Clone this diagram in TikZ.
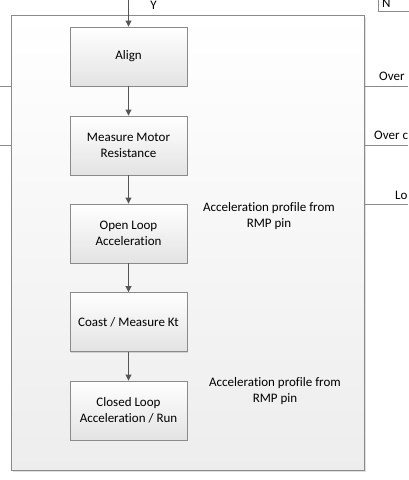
\documentclass[tikz,border=0pt]{standalone}
\usepackage{fontspec}
\setmainfont{Carlito}[Ligatures={NoCommon}]
\usetikzlibrary{arrows.meta,shadows}
\definecolor{edge}{HTML}{8A8A8A}
\definecolor{arr}{HTML}{555555}
\tikzset{
  stepbox/.style={draw=edge, line width=0.9pt, top color=white, bottom color=black!11,
    minimum width=117pt, minimum height=59pt, align=center, inner sep=2pt,
    font=\fontsize{13}{16}\selectfont,
    drop shadow={shadow xshift=1.2pt, shadow yshift=-1.2pt, fill=black!25, opacity=0.6}},
  flow/.style={draw=arr, line width=0.9pt, -{Triangle[length=6pt,width=6pt]}},
  lbl/.style={font=\fontsize{13}{16}\selectfont, align=center, inner sep=0pt},
  side/.style={draw=edge, line width=0.8pt},
}
\begin{document}
\begin{tikzpicture}[x=1pt,y=-1pt]
\useasboundingbox (0,0) rectangle (408,480);
% outer box
\node[draw=edge, line width=1pt, top color=white, bottom color=black!7,
  minimum width=353pt, minimum height=455pt, inner sep=0pt, anchor=north west,
  drop shadow={shadow xshift=1.5pt, shadow yshift=-1.5pt, fill=black!20, opacity=0.6}]
  (outer) at (11,15) {};
% N box
\node[draw=edge, line width=0.8pt, fill=white, anchor=south west, minimum width=40pt,
  minimum height=20pt, inner sep=0pt] (nbox) at (378,12) {};
\node[lbl, anchor=base west] (ntext) at (382,7) {N};
% steps
\node[stepbox] (align) at (128.5,56.5) {Align};
\node[stepbox] (meas) at (128.5,145.5) {Measure Motor\\Resistance};
\node[stepbox] (open) at (128.5,233.5) {Open Loop\\Acceleration};
\node[stepbox] (coast) at (128.5,322) {Coast / Measure Kt};
\node[stepbox] (closed) at (128.5,410.5) {Closed Loop\\Acceleration / Run};
% top entry
\coordinate (top) at (128.5,0);
\draw[flow] (top) -- (align.north);
\node[lbl, anchor=base] (y) at (153.5,9.5) {Y};
\draw[flow] (align) -- (meas);
\draw[flow] (meas) -- (open);
\draw[flow] (open) -- (coast);
\draw[flow] (coast) -- (closed);
% annotations
\node[lbl] (a1) at (269,216) {Acceleration profile from\\RMP pin};
\node[lbl] (a2) at (275,391) {Acceleration profile from\\RMP pin};
% side lines
\coordinate (l1) at (0,86);
\coordinate (l2) at (0,145);
\coordinate (l1e) at (11,86);
\coordinate (l2e) at (11,145);
\draw[side] (l1) -- (l1e);
\draw[side] (l2) -- (l2e);
\coordinate (r1) at (364,86);
\coordinate (r2) at (364,145);
\coordinate (r3) at (364,204);
\coordinate (r1e) at (408,86);
\coordinate (r2e) at (408,145);
\coordinate (r3e) at (408,204);
\draw[side] (r1) -- (r1e);
\draw[side] (r2) -- (r2e);
\draw[side] (r3) -- (r3e);
\node[lbl, anchor=west] (o1) at (379,76) {Over};
\node[lbl, anchor=west] (o2) at (374,135) {Over c};
\node[lbl, anchor=west] (o3) at (395,195) {Lo};
\end{tikzpicture}
\end{document}
